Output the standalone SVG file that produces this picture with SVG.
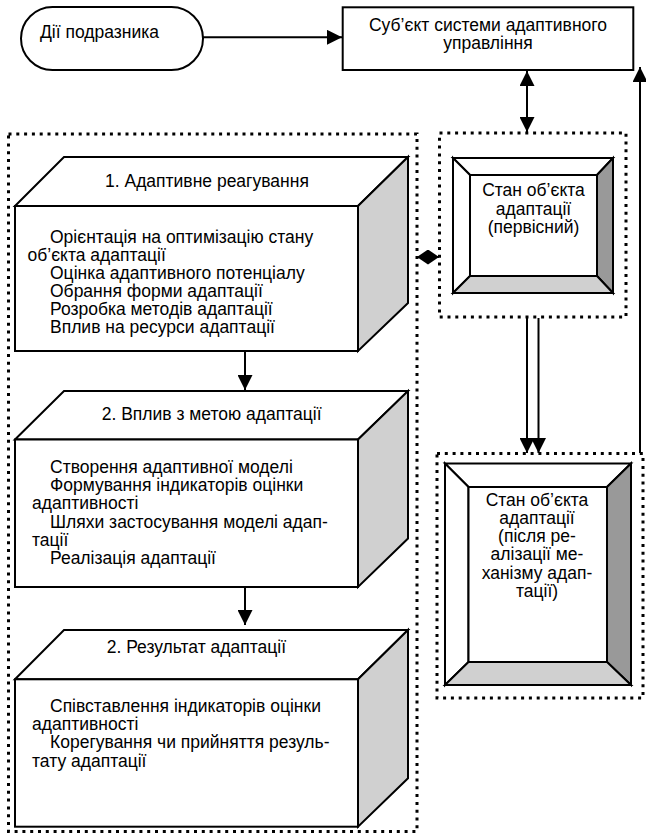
<svg xmlns="http://www.w3.org/2000/svg" width="646" height="836" viewBox="0 0 646 836">
<defs>
<style>
text{font-family:"Liberation Sans",Arial,sans-serif;font-size:17.5px;fill:#000}
.c{text-anchor:middle}
.ln{fill:none;stroke:#000;stroke-width:2}
.bx{stroke:#000;stroke-width:2;stroke-linejoin:miter}
.w{fill:#fff}
.g1{fill:#d0d0d0}
.g2{fill:#999}
.dot{fill:none;stroke:#000;stroke-width:3;stroke-dasharray:3 4.8}
</style>
<marker id="ah" viewBox="0 0 15 15" refX="15" refY="7.5" markerWidth="15" markerHeight="15" markerUnits="userSpaceOnUse" orient="auto-start-reverse">
<path d="M0,0 L15,7.5 L0,15 z" fill="#000"/>
</marker>
<marker id="ahs" viewBox="0 0 11 15" refX="11" refY="7.5" markerWidth="11" markerHeight="15" markerUnits="userSpaceOnUse" orient="auto-start-reverse">
<path d="M0,0 L11,7.5 L0,15 z" fill="#000"/>
</marker>
</defs>
<rect width="646" height="836" fill="#fff"/>

<g id="frames">
<rect class="dot" x="8.5" y="134" width="408.5" height="697.5"/>
<rect class="dot" x="439.5" y="133" width="186.5" height="184"/>
<rect class="dot" x="437" y="453.5" width="206" height="244.5"/>
</g>

<g id="stimulus">
<rect class="bx w" x="21" y="7" width="182" height="63" rx="31.5"/>
<text x="40" y="37.7">Дії подразника</text>
</g>

<g id="subject">
<rect class="bx w" x="342.7" y="7.3" width="290.6" height="62.7"/>
<text class="c" x="488" y="31">Суб’єкт системи адаптивного</text>
<text class="c" x="488" y="49">управління</text>
</g>

<g id="block1">
<polygon class="bx w" points="15,206 64,157 408,157 358,206"/>
<polygon class="bx g1" points="358,206 408,157 408,303 358,351"/>
<rect class="bx w" x="15" y="206" width="343" height="145"/>
<text x="105" y="186.5">1. Адаптивне реагування</text>
<text x="50" y="243.3">Орієнтація на оптимізацію стану</text>
<text x="27.5" y="261.3">об’єкта адаптації</text>
<text x="50" y="279.3">Оцінка адаптивного потенціалу</text>
<text x="50" y="297.3">Обрання форми адаптації</text>
<text x="50" y="315.3">Розробка методів адаптації</text>
<text x="50" y="333.3">Вплив на ресурси адаптації</text>
</g>

<g id="block2">
<polygon class="bx w" points="15,439.5 64,391 408,391 358,439.5"/>
<polygon class="bx g1" points="358,439.5 408,391 408,538.5 358,587"/>
<rect class="bx w" x="15" y="439.5" width="343" height="147.5"/>
<text x="101.7" y="419.5">2. Вплив з метою адаптації</text>
<text x="50" y="472.7">Створення адаптивної моделі</text>
<text x="50" y="491">Формування індикаторів оцінки</text>
<text x="32" y="509.3">адаптивності</text>
<text x="50" y="527.7">Шляхи застосування моделі адап-</text>
<text x="32" y="546">тації</text>
<text x="50" y="564.3">Реалізація адаптації</text>
</g>

<g id="block3">
<polygon class="bx w" points="15,679.3 64,630 408,630 358,679.3"/>
<polygon class="bx g1" points="358,679.3 408,630 408,778.3 358,826.7"/>
<rect class="bx w" x="15" y="679.3" width="343" height="147.4"/>
<text x="106.7" y="652.7">2. Результат адаптації</text>
<text x="50" y="711.7">Співставлення індикаторів оцінки</text>
<text x="32" y="730">адаптивності</text>
<text x="50" y="748.3">Корегування чи прийняття резуль-</text>
<text x="32" y="766.7">тату адаптації</text>
</g>

<g id="state-initial">
<polygon class="bx w" points="453,158 613,158 597,175 470,175"/>
<polygon class="bx w" points="453,158 470,175 470,276 453,293"/>
<polygon class="bx g2" points="613,158 613,293 597,276 597,175"/>
<polygon class="bx g1" points="453,293 613,293 597,276 470,276"/>
<rect class="bx w" x="470" y="175" width="127" height="101"/>
<text class="c" x="533.5" y="196">Стан об’єкта</text>
<text class="c" x="533.5" y="214.5">адаптації</text>
<text class="c" x="533.5" y="233">(первісний)</text>
</g>

<g id="state-after">
<polygon class="bx w" points="445,463.5 631,463.5 607,487 468.5,487"/>
<polygon class="bx w" points="445,463.5 468.5,487 468.5,662 445,685"/>
<polygon class="bx g2" points="631,463.5 631,685 607,662 607,487"/>
<polygon class="bx g1" points="445,685 631,685 607,662 468.5,662"/>
<rect class="bx w" x="468.5" y="487" width="138.5" height="175"/>
<text class="c" x="537" y="505.5">Стан об’єкта</text>
<text class="c" x="537" y="523.8">адаптації</text>
<text class="c" x="537" y="542.1">(після ре-</text>
<text class="c" x="537" y="560.4">алізації ме-</text>
<text class="c" x="537" y="578.7">ханізму адап-</text>
<text class="c" x="537" y="597">тації)</text>
</g>

<g id="connectors">
<line class="ln" x1="203" y1="37.3" x2="342" y2="37.3" marker-end="url(#ah)"/>
<line class="ln" x1="527" y1="71" x2="527" y2="132" marker-start="url(#ah)" marker-end="url(#ah)"/>
<line class="ln" x1="417" y1="257" x2="439" y2="257" marker-start="url(#ahs)" marker-end="url(#ahs)"/>
<line class="ln" x1="527" y1="318" x2="527" y2="453" marker-end="url(#ah)"/>
<line class="ln" x1="538.5" y1="318" x2="538.5" y2="453" marker-end="url(#ah)"/>
<line class="ln" x1="640" y1="453" x2="640" y2="67" marker-end="url(#ah)"/>
<line class="ln" x1="245" y1="351" x2="245" y2="390" marker-end="url(#ah)"/>
<line class="ln" x1="245" y1="587" x2="245" y2="625" marker-end="url(#ah)"/>
</g>
</svg>
